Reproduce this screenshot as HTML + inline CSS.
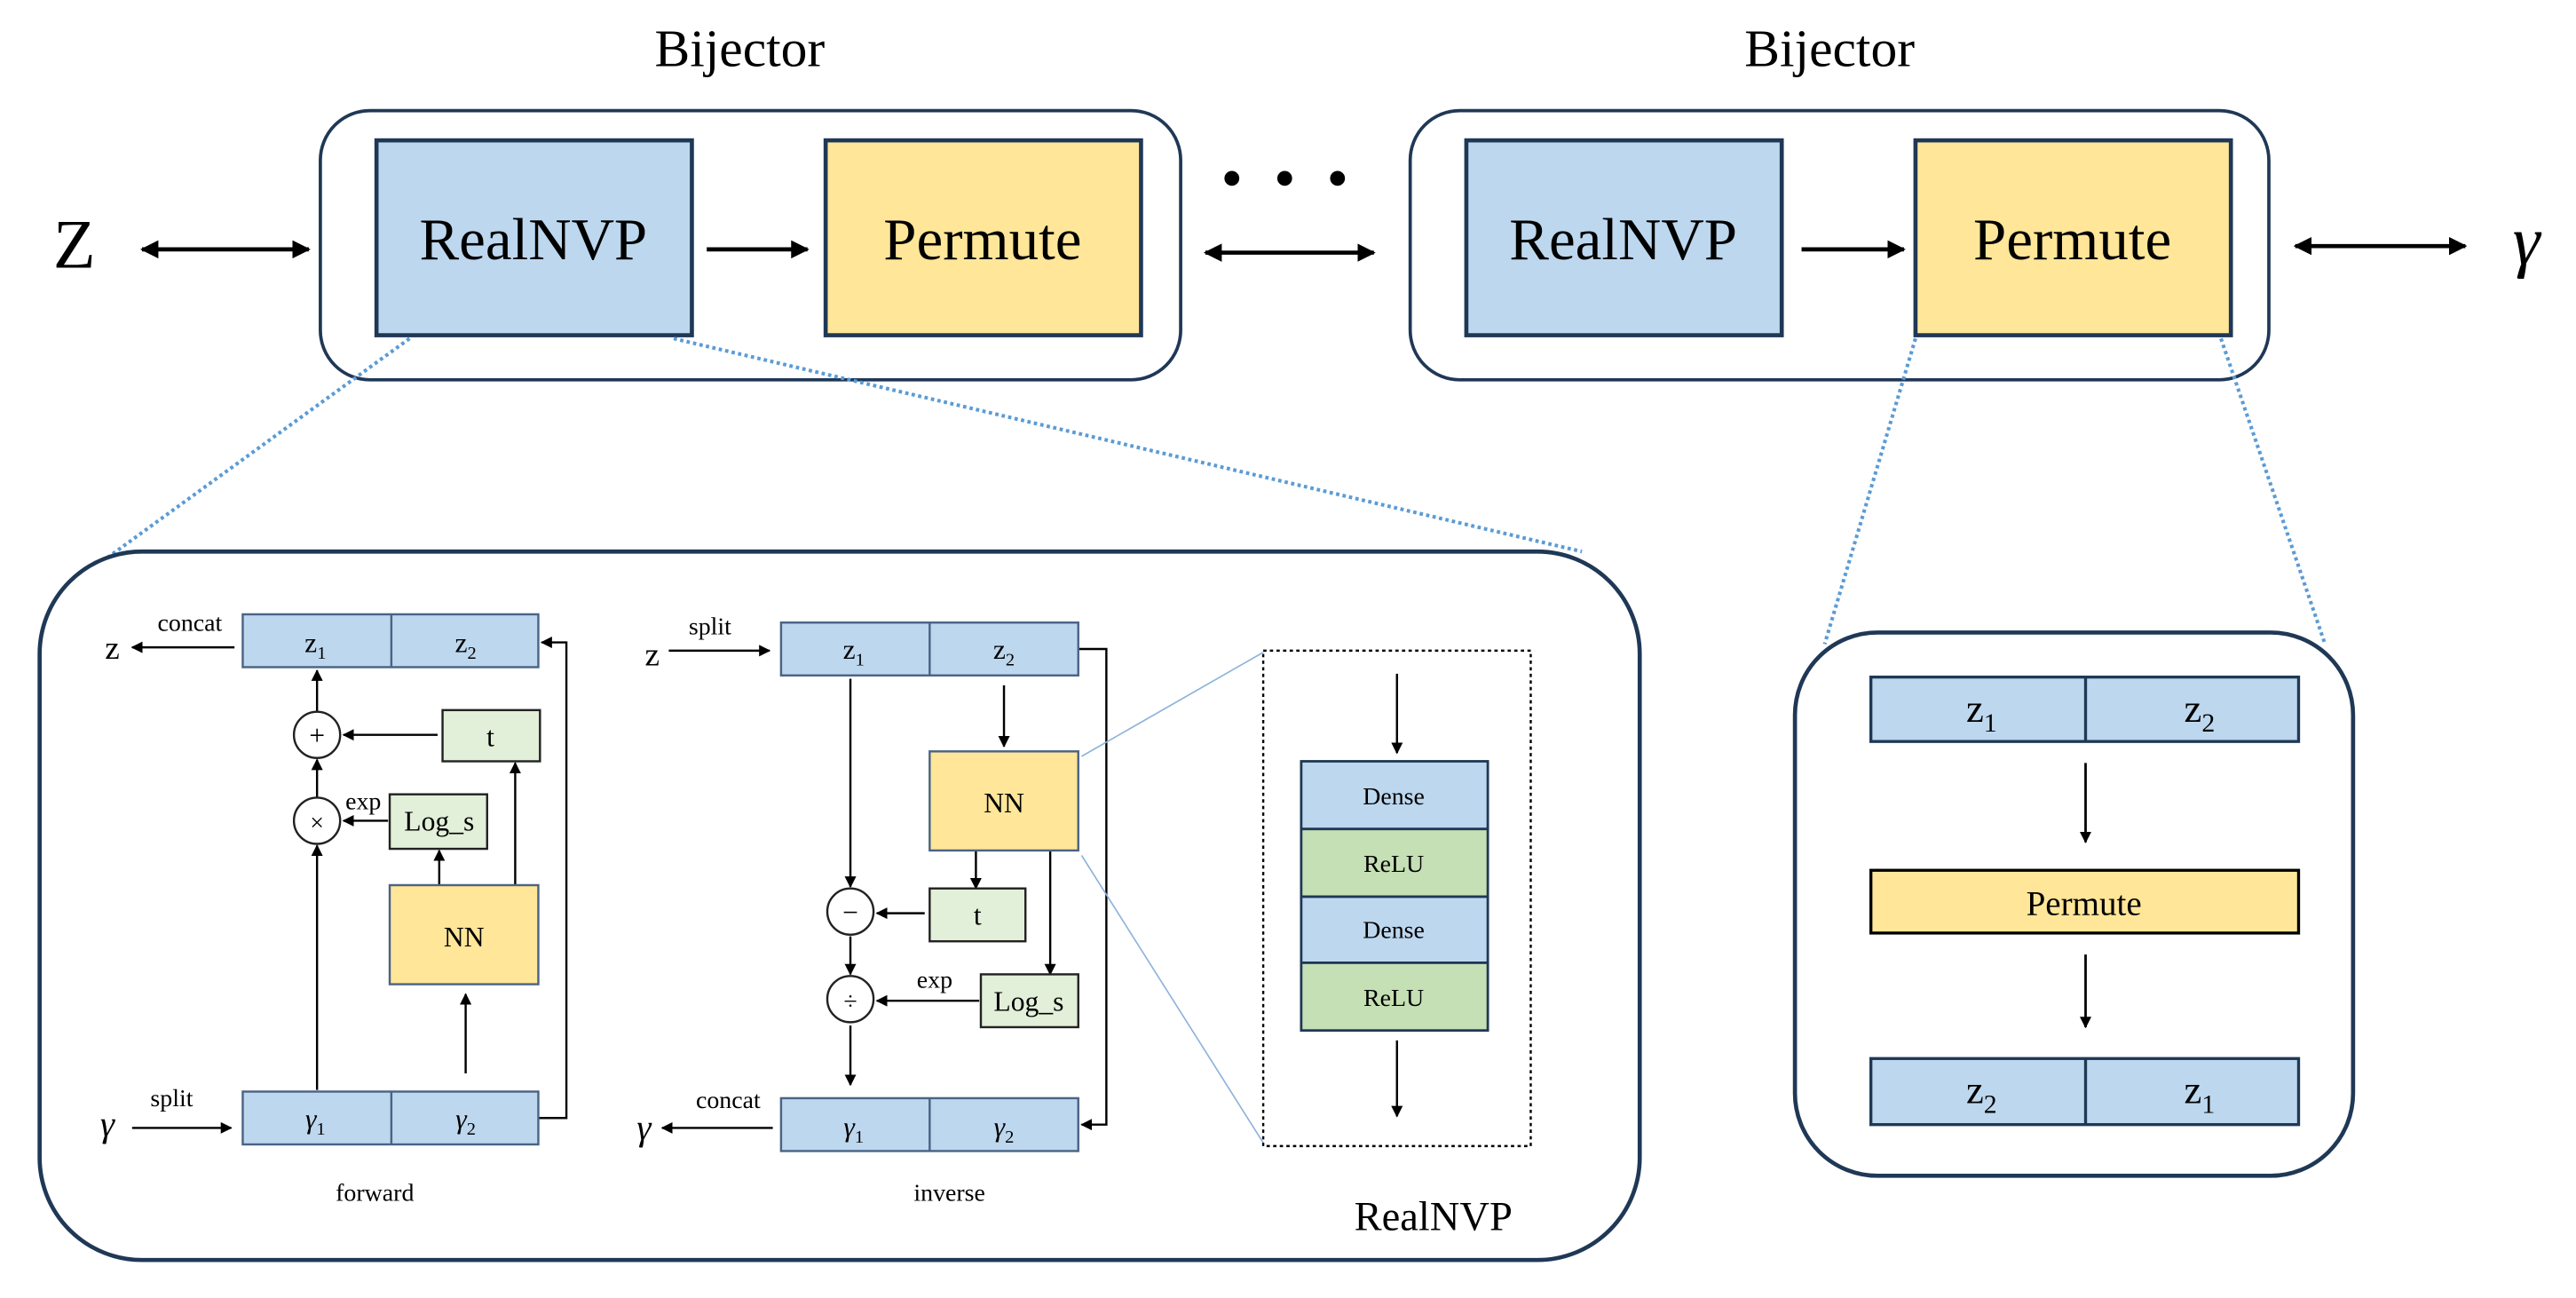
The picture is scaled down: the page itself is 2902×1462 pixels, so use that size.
<!DOCTYPE html>
<html><head><meta charset="utf-8"><style>
html,body{margin:0;padding:0;background:#fff;}
svg{display:block;}
text{font-family:"Liberation Serif",serif;fill:#000;}
</style></head><body>
<svg width="2902" height="1462" viewBox="0 0 1560 786" preserveAspectRatio="none" xmlns="http://www.w3.org/2000/svg">
<defs>
<marker id="a" viewBox="0 0 10 10" refX="9" refY="5" markerWidth="7" markerHeight="7" markerUnits="userSpaceOnUse" orient="auto-start-reverse"><path d="M0,0 L10,5 L0,10 z" fill="#000"/></marker>
<marker id="b" viewBox="0 0 10 10" refX="9" refY="5" markerWidth="11" markerHeight="11" markerUnits="userSpaceOnUse" orient="auto-start-reverse"><path d="M0,0 L10,5 L0,10 z" fill="#000"/></marker>
</defs>

<!-- Top row -->
<text x="448" y="40" font-size="32" text-anchor="middle">Bijector</text>
<text x="1108" y="40" font-size="32" text-anchor="middle">Bijector</text>

<rect x="194" y="67" width="521" height="163" rx="30" fill="none" stroke="#1f3856" stroke-width="2"/>
<rect x="854" y="67" width="520" height="163" rx="30" fill="none" stroke="#1f3856" stroke-width="2"/>

<rect x="228" y="85" width="191" height="118" fill="#bdd7ee" stroke="#1f3856" stroke-width="2.5"/>
<rect x="500" y="85" width="191" height="118" fill="#ffe699" stroke="#1f3856" stroke-width="2.5"/>
<rect x="888" y="85" width="191" height="118" fill="#bdd7ee" stroke="#1f3856" stroke-width="2.5"/>
<rect x="1160" y="85" width="191" height="118" fill="#ffe699" stroke="#1f3856" stroke-width="2.5"/>
<text x="323" y="157" font-size="36" text-anchor="middle">RealNVP</text>
<text x="595" y="157" font-size="36" text-anchor="middle">Permute</text>
<text x="983" y="157" font-size="36" text-anchor="middle">RealNVP</text>
<text x="1255" y="157" font-size="36" text-anchor="middle">Permute</text>

<text x="45" y="162" font-size="42" text-anchor="middle">Z</text>
<line x1="86" y1="151" x2="187" y2="151" stroke="#000" stroke-width="2.5" marker-start="url(#b)" marker-end="url(#b)"/>
<line x1="428" y1="151" x2="489" y2="151" stroke="#000" stroke-width="2.5" marker-end="url(#b)"/>
<circle cx="746" cy="108" r="4.5" fill="#000"/><circle cx="778" cy="108" r="4.5" fill="#000"/><circle cx="810" cy="108" r="4.5" fill="#000"/>
<line x1="730" y1="153" x2="832" y2="153" stroke="#000" stroke-width="2.5" marker-start="url(#b)" marker-end="url(#b)"/>
<line x1="1091" y1="151" x2="1153" y2="151" stroke="#000" stroke-width="2.5" marker-end="url(#b)"/>
<line x1="1390" y1="149" x2="1493" y2="149" stroke="#000" stroke-width="2.5" marker-start="url(#b)" marker-end="url(#b)"/>
<text x="1530" y="160" font-size="42" font-style="italic" text-anchor="middle">γ</text>

<!-- dotted zoom lines -->
<g stroke="#5b9bd5" stroke-width="2.2" stroke-dasharray="2,2" fill="none">
<line x1="248" y1="205" x2="55" y2="345"/>
<line x1="408" y1="205" x2="958" y2="334"/>
<line x1="1160" y1="205" x2="1105" y2="390"/>
<line x1="1345" y1="205" x2="1408" y2="390"/>
</g>

<!-- Bottom left container -->
<rect x="24" y="334" width="969" height="429" rx="62" fill="#fff" stroke="#1f3856" stroke-width="2.5"/>

<g stroke="#000" stroke-width="1.3" fill="none">
<!-- forward -->
<line x1="142" y1="392" x2="80" y2="392" marker-end="url(#a)"/>
<polyline points="326,677 343,677 343,389 328,389" marker-end="url(#a)"/>
<line x1="192" y1="431" x2="192" y2="406" marker-end="url(#a)"/>
<line x1="192" y1="483" x2="192" y2="460" marker-end="url(#a)"/>
<line x1="192" y1="660" x2="192" y2="512" marker-end="url(#a)"/>
<line x1="265" y1="445" x2="208" y2="445" marker-end="url(#a)"/>
<line x1="235" y1="497" x2="208" y2="497" marker-end="url(#a)"/>
<line x1="266" y1="536" x2="266" y2="515" marker-end="url(#a)"/>
<line x1="312" y1="536" x2="312" y2="462" marker-end="url(#a)"/>
<line x1="282" y1="650" x2="282" y2="602" marker-end="url(#a)"/>
<line x1="80" y1="683" x2="140" y2="683" marker-end="url(#a)"/>
<!-- inverse -->
<line x1="405" y1="394" x2="466" y2="394" marker-end="url(#a)"/>
<polyline points="653,393 670,393 670,681 655,681" marker-end="url(#a)"/>
<line x1="515" y1="411" x2="515" y2="537" marker-end="url(#a)"/>
<line x1="608" y1="415" x2="608" y2="452" marker-end="url(#a)"/>
<line x1="591" y1="515" x2="591" y2="538" marker-end="url(#a)"/>
<line x1="636" y1="515" x2="636" y2="590" marker-end="url(#a)"/>
<line x1="560" y1="553" x2="531" y2="553" marker-end="url(#a)"/>
<line x1="515" y1="567" x2="515" y2="590" marker-end="url(#a)"/>
<line x1="593" y1="606" x2="531" y2="606" marker-end="url(#a)"/>
<line x1="515" y1="621" x2="515" y2="657" marker-end="url(#a)"/>
<line x1="468" y1="683" x2="401" y2="683" marker-end="url(#a)"/>
<!-- dense -->
<line x1="846" y1="408" x2="846" y2="456" marker-end="url(#a)"/>
<line x1="846" y1="630" x2="846" y2="676" marker-end="url(#a)"/>
</g>

<g stroke="#4a6385" stroke-width="1.3">
<rect x="147" y="372" width="179" height="32" fill="#bdd7ee"/><line x1="237" y1="372" x2="237" y2="404"/>
<rect x="147" y="661" width="179" height="32" fill="#bdd7ee"/><line x1="237" y1="661" x2="237" y2="693"/>
<rect x="473" y="377" width="180" height="32" fill="#bdd7ee"/><line x1="563" y1="377" x2="563" y2="409"/>
<rect x="473" y="665" width="180" height="32" fill="#bdd7ee"/><line x1="563" y1="665" x2="563" y2="697"/>
<rect x="236" y="536" width="90" height="60" fill="#ffe699"/>
<rect x="563" y="455" width="90" height="60" fill="#ffe699"/>
</g>
<g stroke="#222" stroke-width="1.3">
<rect x="268" y="430" width="59" height="31" fill="#e2efd9"/>
<rect x="236" y="481" width="59" height="33" fill="#e2efd9"/>
<rect x="563" y="538" width="58" height="32" fill="#e2efd9"/>
<rect x="594" y="590" width="59" height="32" fill="#e2efd9"/>
<circle cx="192" cy="445" r="14" fill="#fff"/>
<circle cx="192" cy="497" r="14" fill="#fff"/>
<circle cx="515" cy="552" r="14" fill="#fff"/>
<circle cx="515" cy="605" r="14" fill="#fff"/>
</g>

<g font-size="17" text-anchor="middle">
<text x="191" y="395">z<tspan font-size="11" dy="4">1</tspan></text>
<text x="282" y="395">z<tspan font-size="11" dy="4">2</tspan></text>
<text x="517" y="399">z<tspan font-size="11" dy="4">1</tspan></text>
<text x="608" y="399">z<tspan font-size="11" dy="4">2</tspan></text>
<text x="191" y="683" font-style="italic">γ<tspan font-size="11" dy="4" font-style="normal">1</tspan></text>
<text x="282" y="683" font-style="italic">γ<tspan font-size="11" dy="4" font-style="normal">2</tspan></text>
<text x="517" y="688" font-style="italic">γ<tspan font-size="11" dy="4" font-style="normal">1</tspan></text>
<text x="608" y="688" font-style="italic">γ<tspan font-size="11" dy="4" font-style="normal">2</tspan></text>
<text x="297" y="452">t</text>
<text x="266" y="503">Log_s</text>
<text x="281" y="573">NN</text>
<text x="608" y="492">NN</text>
<text x="592" y="560">t</text>
<text x="623" y="612">Log_s</text>
<text x="192" y="451">+</text>
<text x="192" y="503" font-size="15">×</text>
<text x="515" y="558">−</text>
<text x="515" y="611" font-size="15">÷</text>
</g>
<g font-size="15" text-anchor="middle">
<text x="115" y="382">concat</text>
<text x="220" y="490">exp</text>
<text x="104" y="670">split</text>
<text x="430" y="384">split</text>
<text x="566" y="598">exp</text>
<text x="441" y="671">concat</text>
<text x="227" y="727">forward</text>
<text x="575" y="727">inverse</text>
</g>
<text x="68" y="399" font-size="20" text-anchor="middle">z</text>
<text x="395" y="403" font-size="20" text-anchor="middle">z</text>
<text x="65" y="688" font-size="22" font-style="italic" text-anchor="middle">γ</text>
<text x="390" y="690" font-size="22" font-style="italic" text-anchor="middle">γ</text>

<!-- NN zoom lines -->
<line x1="655" y1="458" x2="765" y2="395" stroke="#8fb4d9" stroke-width="0.9"/>
<line x1="655" y1="518" x2="765" y2="692" stroke="#8fb4d9" stroke-width="0.9"/>
<rect x="765" y="394" width="162" height="300" fill="none" stroke="#000" stroke-width="1.3" stroke-dasharray="2,2"/>
<g stroke="#1f3856" stroke-width="1.5">
<rect x="788" y="461" width="113" height="41" fill="#bdd7ee"/>
<rect x="788" y="502" width="113" height="41" fill="#c5e0b4"/>
<rect x="788" y="543" width="113" height="40" fill="#bdd7ee"/>
<rect x="788" y="583" width="113" height="41" fill="#c5e0b4"/>
</g>
<g font-size="15" text-anchor="middle">
<text x="844" y="487">Dense</text>
<text x="844" y="528">ReLU</text>
<text x="844" y="568">Dense</text>
<text x="844" y="609">ReLU</text>
</g>
<text x="868" y="745" font-size="25" text-anchor="middle">RealNVP</text>

<!-- Right permute container -->
<rect x="1087" y="383" width="338" height="329" rx="50" fill="#fff" stroke="#1f3856" stroke-width="2.5"/>
<g stroke="#1f3856" stroke-width="1.8">
<rect x="1133" y="410" width="259" height="39" fill="#bdd7ee"/><line x1="1263" y1="410" x2="1263" y2="449"/>
<rect x="1133" y="641" width="259" height="40" fill="#bdd7ee"/><line x1="1263" y1="641" x2="1263" y2="681"/>
</g>
<rect x="1133" y="527" width="259" height="38" fill="#ffe699" stroke="#000" stroke-width="1.8"/>
<g stroke="#000" stroke-width="1.5">
<line x1="1263" y1="462" x2="1263" y2="510" marker-end="url(#a)"/>
<line x1="1263" y1="578" x2="1263" y2="622" marker-end="url(#a)"/>
</g>
<g font-size="24" text-anchor="middle">
<text x="1200" y="437">z<tspan font-size="16" dy="6">1</tspan></text>
<text x="1332" y="437">z<tspan font-size="16" dy="6">2</tspan></text>
<text x="1200" y="668">z<tspan font-size="16" dy="6">2</tspan></text>
<text x="1332" y="668">z<tspan font-size="16" dy="6">1</tspan></text>
</g>
<text x="1262" y="554" font-size="21" text-anchor="middle">Permute</text>
</svg>
</body></html>
